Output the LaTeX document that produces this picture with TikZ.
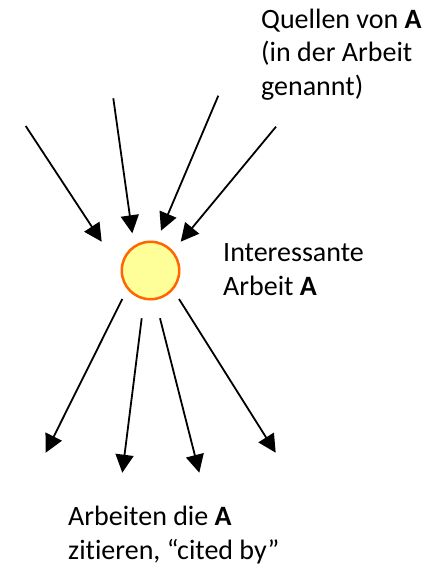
\documentclass[tikz,border=0pt]{standalone}
\usepackage{fontspec}
\setmainfont{Carlito}[Ligatures=NoCommon]
\usetikzlibrary{arrows.meta}
\definecolor{sunfill}{HTML}{FFFF99}
\definecolor{sunline}{HTML}{FF6600}
\tikzset{
  link/.style={line width=1.8pt, -{Triangle[length=18pt,width=18pt]}},
  lbl/.style={inner sep=0pt, anchor=base west, align=left, font=\fontsize{28}{33.5}\selectfont},
  paper/.style={circle, draw=sunline, fill=sunfill, line width=2.5pt, minimum size=57.5pt, inner sep=0pt}
}
\begin{document}
\begin{tikzpicture}[x=1pt,y=-1pt]
\useasboundingbox[fill=white] (0,0) rectangle (441,570);
\node[paper] (a) at (150.5,270.5) {};
% incoming
\coordinate (s1) at (25.7,126);   \coordinate (t1) at (101.7,241.7);
\coordinate (s2) at (113.3,98.3); \coordinate (t2) at (132.3,233.3);
\coordinate (s3) at (218.3,95.7); \coordinate (t3) at (161,230.7);
\coordinate (s4) at (276,126.7);  \coordinate (t4) at (180.7,241.7);
\draw[link] (s1) -- (t1);
\draw[link] (s2) -- (t2);
\draw[link] (s3) -- (t3);
\draw[link] (s4) -- (t4);
% outgoing
\coordinate (o1) at (122.3,299);  \coordinate (e1) at (45.7,452.7);
\coordinate (o2) at (141.7,318.3);\coordinate (e2) at (122.3,472.7);
\coordinate (o3) at (160,318.3);  \coordinate (e3) at (199.3,472.7);
\coordinate (o4) at (179,299);    \coordinate (e4) at (275.7,452.7);
\draw[link] (o1) -- (e1);
\draw[link] (o2) -- (e2);
\draw[link] (o3) -- (e3);
\draw[link] (o4) -- (e4);
% labels (base anchor = baseline of last line)
\node[lbl] (q) at (261,95) {Quellen von \textbf{A}\\(in der Arbeit\\genannt)};
\node[lbl] (i) at (223,295) {Interessante\\Arbeit \textbf{A}};
\node[lbl] (c) at (68,559) {Arbeiten die \textbf{A}\\zitieren, “cited by”};
\end{tikzpicture}
\end{document}
